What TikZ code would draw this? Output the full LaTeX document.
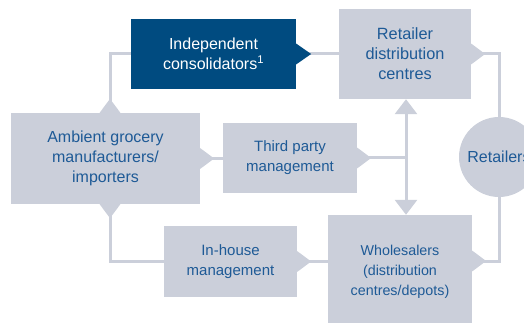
\documentclass[tikz,border=0pt]{standalone}
\usepackage{fontspec}
\setmainfont{Liberation Sans}
\usetikzlibrary{arrows.meta,calc}
\definecolor{boxgray}{RGB}{203,207,218}
\definecolor{darkblue}{RGB}{0,75,128}
\definecolor{textblue}{RGB}{30,90,150}
\newcommand{\fsz}[1]{\fontsize{#1}{20}\selectfont}
\begin{document}
\begin{tikzpicture}[x=1pt,y=-1pt,
  box/.style={rectangle,fill=boxgray,text=textblue,align=center,inner sep=0pt,
    font=\fsz{16}},
  darkbox/.style={box,fill=darkblue,text=white},
  conn/.style={draw=boxgray,line width=3pt},
  tab/.style={{Triangle[reversed,length=14pt,width=20pt,color=boxgray]}-},
  darktab/.style={{Triangle[reversed,length=15pt,width=20pt,color=darkblue]}-},
  dbl/.style={{Triangle[length=15pt,width=22pt,color=boxgray]}-{Triangle[length=15pt,width=22pt,color=boxgray]}}
]
\useasboundingbox (0,0) rectangle (524,323);
\clip (0,0) rectangle (524,323);

\node[darkbox,minimum width=165pt,minimum height=70pt] (cons) at (213.5,54) {Independent\\consolidators\textsuperscript{1}};
\node[box,minimum width=132pt,minimum height=90pt,font=\fsz{16.3}] (rdc) at (405,54) {Retailer\\distribution\\centres};
\node[box,minimum width=189pt,minimum height=91pt] (amb) at (105.5,158.5) {Ambient grocery\\manufacturers/\\importers};
\node[box,minimum width=134pt,minimum height=70pt,font=\fsz{15}] (tp) at (290,158) {Third party\\management};
\node[box,minimum width=133pt,minimum height=71pt,font=\fsz{15}] (ih) at (230.5,261.5) {In-house\\management};
\node[box,minimum width=144pt,minimum height=114pt,font=\fsz{14.3}] (wh) at (400,272) {Wholesalers\\(distribution\\centres/depots)};
\node[circle,fill=boxgray,text=textblue,inner sep=0pt,minimum size=80pt,font=\fsz{16}] (ret) at (499,157) {Retailers};

\coordinate (j) at (406,158);

% connectors
\draw[conn,tab] ([xshift=4.5pt]amb.north) |- (cons.west);
\draw[conn,tab] ([xshift=4.5pt]amb.south) |- (ih.west);
\draw[conn,tab] (amb.east) -- (amb.east -| tp.west);
\draw[conn,tab] (tp.east) -- (j);
\draw[conn,darktab] (cons.east) -- (rdc.west);
\draw[conn,tab] (rdc.east) -| (ret.north);
\draw[conn,tab] ([yshift=11pt]wh.east) -| (ret.south);
\draw[conn,tab] (ih.east) -- (ih.east -| wh.west);
\draw[conn,dbl] ([xshift=1pt]rdc.south) -- ([xshift=6pt]wh.north);
\end{tikzpicture}
\end{document}
